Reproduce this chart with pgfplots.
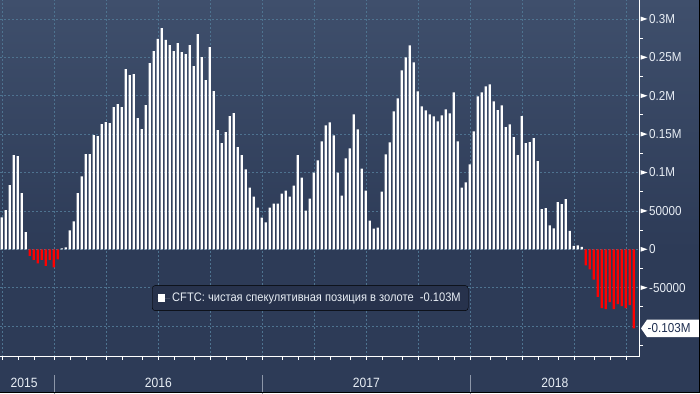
\documentclass[border=0pt]{standalone}
\usepackage{fontspec}
\setmainfont{Liberation Sans}[FakeStretch=0.9]
\usepackage{pgfplots}
\usetikzlibrary{calc}
\pgfplotsset{compat=1.18}
\definecolor{bgtop}{HTML}{3F4F6C}
\definecolor{bgbot}{HTML}{2D3B57}
\definecolor{gridc}{HTML}{4E7390}
\definecolor{legfill}{HTML}{27324C}
\definecolor{txt}{HTML}{E8EEF5}
\definecolor{boxtxt}{HTML}{1E2E50}
\definecolor{barred}{HTML}{FF0000}
\definecolor{sepc}{HTML}{8C96A8}
\newcommand\tickfont{\fontsize{13}{15}\selectfont}
\begin{document}
\begin{tikzpicture}[x=1bp,y=1bp]
\fill[bgbot] (0,-36.3) rectangle (700,106.7);
\shade[top color=bgtop, bottom color=bgbot] (0,106.7) rectangle (700,356.7);
\begin{axis}[
  width=639.5bp, height=356.7bp, scale only axis,
  xmin=0.575, xmax=160.45,
  ymin=-139.9, ymax=324.7,
  clip=false,
  axis x line*=bottom, axis y line*=right,
  axis line style={white, line width=1.1bp, -},
  ybar, bar width=2.2bp, bar shift=0pt,
  xtick={1.15,14.15,27.15,40.15,53.15,66.15,79.15,92.15,105.15,118.15,131.15,144.15,157.15},
  minor xtick={5.15,9.15,18.15,22.15,31.15,36.15,44.15,49.15,57.15,62.15,71.15,75.15,83.15,88.15,96.15,101.15,110.15,114.15,123.15,127.15,135.15,140.15,149.15,153.15},
  xticklabels={},
  ytick={-100,-50,0,50,100,150,200,250,300},
  yticklabels={,-50000,0,50000,0.1M,0.15M,0.2M,0.25M,0.3M},
  minor ytick={-125,-75,-25,25,75,125,175,225,275},
  xmajorgrids, ymajorgrids,
  major grid style={gridc, dash pattern=on 2bp off 2bp, line width=0.8bp},
  tick align=outside,
  major tick length=3.5bp, minor tick length=3.5bp,
  tick style={white, line width=1bp},
  major y tick style={draw=none},
  yticklabel style={anchor=west, inner sep=0pt, xshift=6bp, text=txt, font=\tickfont},
  legend style={at={(rel axis cs:0.2377,0.2)}, anchor=north west, fill=legfill, draw=black,
    rounded corners=3bp, text=txt, font=\fontsize{12.4}{14}\selectfont,
    inner xsep=5.5bp, inner ysep=5.5bp, legend cell align=left},
  legend image code/.code={\fill[white, sharp corners] (0bp,-4bp) rectangle (7.5bp,4.5bp); \path (0bp,0bp) -- (12.5bp,0bp);},
]
\addplot[fill=white, draw=none, bar shift=0pt] coordinates {
(1,41.7)(2,50.9)(3,83.5)(4,122.6)(5,121.3)(6,73.0)(7,22.2)
(16,1.3)(17,2.6)(18,24.8)(19,36.5)(20,73.0)(21,95.0)(22,124.0)(23,124.0)(24,148.7)(25,147.4)
(26,163.0)(27,165.6)(28,164.3)(29,185.2)(30,189.0)(31,185.2)(32,234.7)(33,227.0)(34,228.2)(35,170.8)
(36,156.5)(37,187.8)(38,242.5)(39,258.2)(40,273.9)(41,288.2)(42,272.6)(43,266.0)(44,258.2)(45,268.6)
(46,256.9)(47,254.3)(48,266.0)(49,238.6)(50,280.4)(51,250.4)(52,220.4)(53,263.4)(54,206.0)(55,155.2)
(56,138.2)(57,152.6)(58,173.5)(59,177.4)(60,133.0)(61,122.6)(62,104.0)(63,80.4)(64,68.7)(65,54.3)
(66,41.3)(67,35.2)(68,54.3)(69,59.6)(70,59.6)(71,72.6)(72,76.5)(73,68.7)(74,83.0)(75,122.6)
(76,93.5)(77,50.4)(78,66.1)(79,100.0)(80,115.7)(81,140.4)(82,161.3)(83,165.2)(84,148.3)(85,100.0)
(86,70.0)(87,118.3)(88,131.3)(89,175.7)(90,156.1)(91,105.2)(92,76.5)(93,37.4)(94,27.0)(95,28.3)
(96,75.2)(97,123.5)(98,139.1)(99,179.6)(100,196.5)(101,233.0)(102,250.0)(103,265.6)(104,243.5)(105,205.7)
(106,186.1)(107,180.9)(108,175.7)(109,173.1)(110,166.6)(111,174.4)(112,182.2)(113,177.0)(114,204.4)(115,140.4)
(116,80.4)(117,87.0)(118,110.5)(119,153.5)(120,199.1)(121,204.4)(122,212.2)(123,214.8)(124,192.6)(125,181.3)
(126,187.4)(127,159.1)(128,162.6)(129,146.0)(130,122.6)(131,173.5)(132,138.2)(133,139.5)(134,144.8)(135,114.8)
(136,52.2)(137,53.5)(138,31.3)(139,27.4)(140,61.3)(141,58.7)(142,65.2)(143,23.9)(144,4.3)(145,5.2)(146,3.0)
};
\addlegendentry{CFTC: чистая спекулятивная позиция в золоте\ \ -0.103M}
\addplot[fill=barred, draw=none, bar shift=0pt, forget plot] coordinates {
(8,-8.7)(9,-13.9)(10,-18.3)(11,-13.9)(12,-21.7)(13,-13.9)(14,-23.5)(15,-13.0)
(147,-21.0)(148,-26.3)(149,-39.4)(150,-62.0)(151,-76.5)(152,-77.8)(153,-68.7)(154,-77.8)
(155,-71.3)(156,-73.9)(157,-76.5)(158,-72.6)(159,-103.0)
};
% tick markers
\pgfplotsinvokeforeach{-50,0,50,100,150,200,250,300}{
  \fill[white] (axis cs:160.45,#1) ++(1bp,2.4bp) -- ++(7bp,-2.4bp) -- ++(-7bp,-2.4bp) -- cycle;
}
% last value box
\fill[white] (axis cs:160.45,-103) ++(1.5bp,0bp) -- ++(6bp,8.7bp) -- ++(52bp,0bp) -- ++(0bp,-17.4bp) -- ++(-52bp,0bp) -- cycle;
\node[anchor=west, inner sep=0pt, text=boxtxt, font=\tickfont] at ($(axis cs:160.45,-103)+(8bp,0bp)$) {-0.103M};
% year separators and labels
\pgfplotsinvokeforeach{14.15,66.15,118.15}{
  \draw[sepc, line width=1bp] ({axis cs:#1,0}|-{rel axis cs:0,0}) ++(0bp,-18.5bp) -- ++(0bp,-20bp);
}
\node[text=txt, font=\fontsize{13.5}{15}\selectfont, inner sep=0pt, yshift=-26.5bp] at ({axis cs:6.6,0}|-{rel axis cs:0,0}) {2015};
\node[text=txt, font=\fontsize{13.5}{15}\selectfont, inner sep=0pt, yshift=-26.5bp] at ({axis cs:40.15,0}|-{rel axis cs:0,0}) {2016};
\node[text=txt, font=\fontsize{13.5}{15}\selectfont, inner sep=0pt, yshift=-26.5bp] at ({axis cs:92.15,0}|-{rel axis cs:0,0}) {2017};
\node[text=txt, font=\fontsize{13.5}{15}\selectfont, inner sep=0pt, yshift=-26.5bp] at ({axis cs:139.3,0}|-{rel axis cs:0,0}) {2018};
\end{axis}
\fill[black] (0,-36.3) rectangle (700,-35.1);
\fill[black] (698.8,-36.3) rectangle (700,356.7);
\pgfresetboundingbox
\useasboundingbox (0,-36.3) rectangle (700,356.7);
\end{tikzpicture}
\end{document}
